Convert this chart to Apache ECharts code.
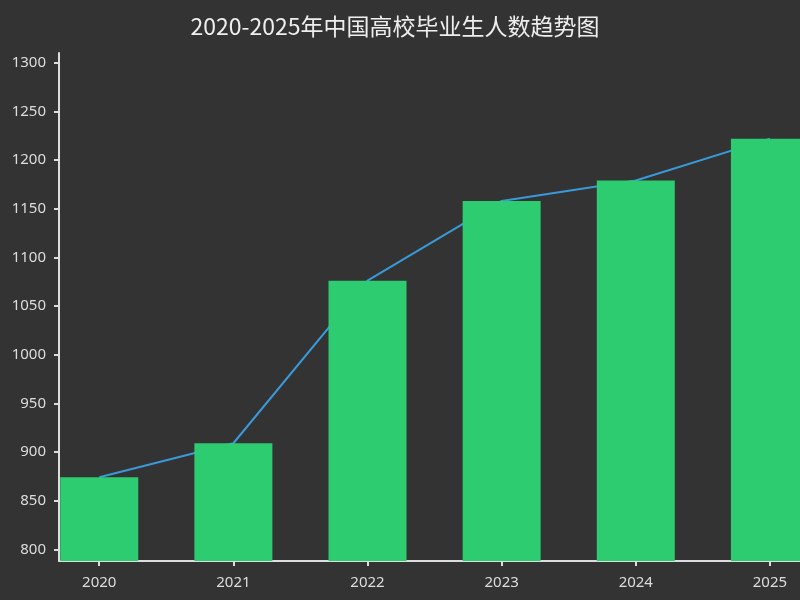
<!DOCTYPE html>
<html>
<head>
<meta charset="utf-8">
<script src="https://cdn.jsdelivr.net/npm/echarts@6/dist/echarts.min.js"></script>
<style>html,body{margin:0;padding:0;background:#333;}#c{width:800px;height:600px;}</style>
</head>
<body>
<div id="c"></div>
<script>
const years = ['2020', '2021', '2022', '2023', '2024', '2025'];
const graduates = [874, 909, 1076, 1158, 1179, 1222];
const trend = [874, 909, 1076, 1158, 1179, 1222];
const yTicks = [800, 850, 900, 950, 1000, 1050, 1100, 1150, 1200, 1250, 1300];

const idx = years.map((_, i) => i);
const barData = graduates.map((v, i) => [i, v]);
const lineData = trend.map((v, i) => [i, v]);

const chart = echarts.init(document.getElementById('c'), null, {renderer: 'canvas'});
chart.setOption({
  backgroundColor: '#333333',
  animation: false,
  title: {
    text: '2020-2025年中国高校毕业生人数趋势图',
    left: 390,
    textAlign: 'center',
    top: 10,
    textStyle: {color: '#eeeeee', fontSize: 23, fontWeight: 'normal', fontFamily: 'Noto Sans CJK SC'}
  },
  grid: {left: 59, top: 53, width: 778, height: 508, outerBoundsMode: 'none', containLabel: false},
  xAxis: {
    type: 'value',
    min: -0.3,
    max: 5.5,
    splitLine: {show: false},
    axisLine: {show: true, onZero: false, lineStyle: {color: '#dddddd', width: 2}},
    axisTick: {show: true, customValues: idx, length: 5, lineStyle: {color: '#dddddd', width: 2}},
    axisLabel: {
      customValues: idx,
      formatter: v => years[Math.round(v)],
      color: '#dddddd', fontSize: 15, margin: 14, fontFamily: 'Noto Sans'
    }
  },
  yAxis: {
    type: 'value',
    min: 788,
    max: 1310,
    splitLine: {show: false},
    axisLine: {show: true, onZero: false, lineStyle: {color: '#dddddd', width: 2}},
    axisTick: {show: true, customValues: yTicks, length: 5, lineStyle: {color: '#dddddd', width: 2}},
    axisLabel: {customValues: yTicks, formatter: v => String(v), color: '#dddddd', fontSize: 15, margin: 13, fontFamily: 'Noto Sans'}
  },
  series: [
    {
      type: 'line',
      data: lineData,
      showSymbol: false,
      z: 1,
      lineStyle: {color: '#3a9ad9', width: 2}
    },
    {
      type: 'bar',
      data: barData,
      barWidth: 78,
      z: 2,
      itemStyle: {color: '#2ecc71'}
    }
  ]
});
</script>
</body>
</html>
